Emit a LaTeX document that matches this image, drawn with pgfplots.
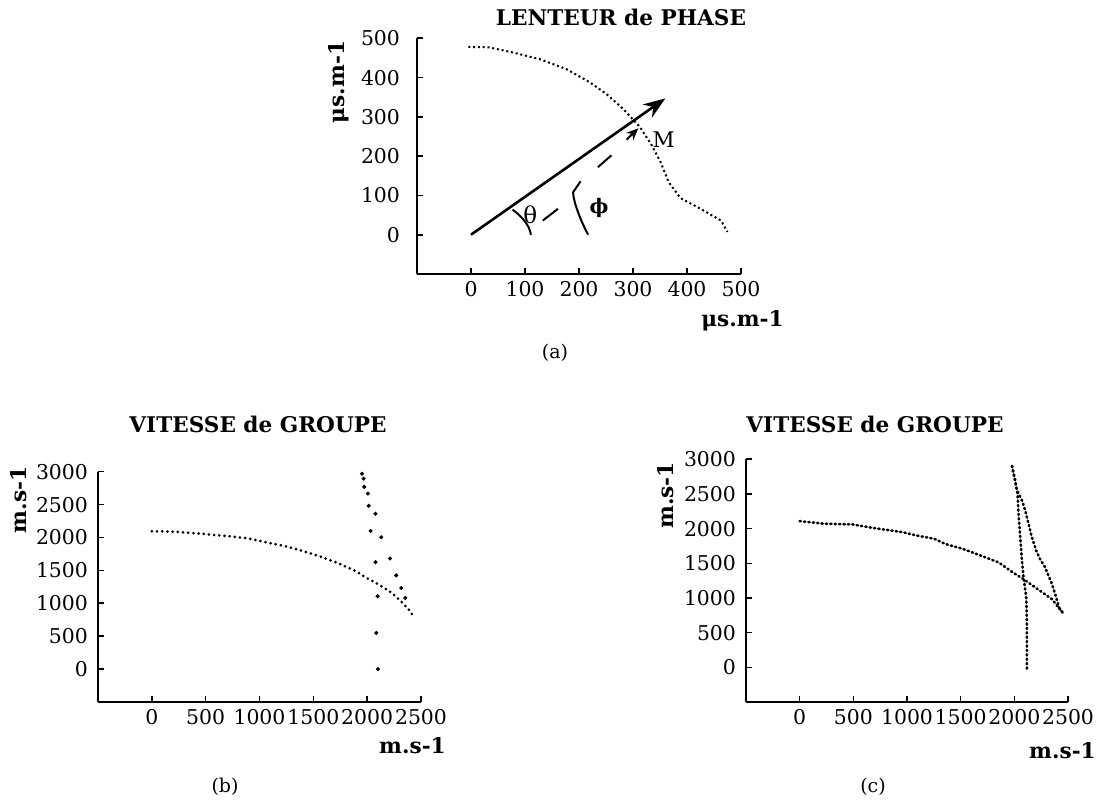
\documentclass[border=0pt]{standalone}
\usepackage{fontspec}
\setmainfont{DejaVu Serif}
\usepackage{pgfplots}
\pgfplotsset{compat=1.18}
\usetikzlibrary{arrows.meta}

\pgfplotsset{
  refaxis/.style={
    scale only axis,
    anchor=south west,
    axis x line=bottom,
    axis y line=left,
    axis line style={-, line width=0.9pt},
    tick align=inside,
    major tick length=3pt,
    tick style={line width=0.8pt, black},
    ticklabel style={font=\fontsize{10.2}{12}\selectfont},
    yticklabel style={xshift=-1.5pt},
    /pgf/number format/assume math mode=true,
    /pgf/number format/1000 sep={},
    clip=false,
  },
  dotcurve/.style={black, line width=1.1pt, line cap=round, dash pattern=on 0.3pt off 2pt},
}

\begin{document}
\begin{tikzpicture}
\useasboundingbox (0,0) rectangle (559.5pt,401pt);

% ---------------- (a) lenteur de phase
\begin{axis}[refaxis,
  at={(208.5pt,264pt)}, width=162pt, height=117.85pt,
  xmin=-100, xmax=500, ymin=-100, ymax=500,
  xtick={0,100,...,500}, ytick={0,100,...,500},
  yticklabel style={xshift=-3.5pt},
]
\addplot[black, line width=1pt, dash pattern=on 1pt off 1.4pt] coordinates {
  (-5,478) (33,477) (77,464) (127,447) (176,422) (220,388) (251,358)
  (282,320) (313,274) (335,227) (351,185) (366,134) (388,93) (425,66)
  (463,36) (475,7)
};
\draw[line width=1.3pt, -{Stealth[length=11pt,width=8pt]}] (axis cs:0,0) -- (axis cs:360,347);
\draw[line width=1pt] (axis cs:133,36) -- (axis cs:161,66);
\draw[line width=1pt] (axis cs:235,172) -- (axis cs:260,202);
\draw[line width=1pt, -{Stealth[length=6pt,width=5pt]}] (axis cs:288,242) -- (axis cs:310,271);
\draw[line width=1pt] (axis cs:77,64) .. controls (axis cs:95,45) and (axis cs:108,25) .. (axis cs:111,0);
\draw[line width=1pt] (axis cs:203,136) -- (axis cs:189,108) .. controls (axis cs:190,80) and (axis cs:205,30) .. (axis cs:217,0);
\node[font=\fontsize{11.5}{13}\selectfont] at (axis cs:110,50) {θ};
\node[font=\fontsize{10}{12}\selectfont\bfseries] at (axis cs:237,67) {ϕ};
\node[font=\fontsize{10.8}{12}\selectfont] at (axis cs:357,243) {M};
\end{axis}

% ---------------- (b) vitesse de groupe
\begin{axis}[refaxis,
  at={(49pt,50pt)}, width=161.5pt, height=115.15pt,
  xmin=-500, xmax=2500, ymin=-500, ymax=3000,
  xtick={0,500,...,2500}, ytick={0,500,...,3000},
]
\addplot[dotcurve, dash pattern=on 0pt off 2.6pt, line width=1.5pt] coordinates {
  (0,2096) (239,2085) (437,2060) (702,2021) (900,1985) (1067,1925)
  (1232,1871) (1398,1796) (1563,1711) (1730,1611) (1895,1487) (1994,1386)
  (2094,1297) (2227,1162) (2326,1012) (2409,862) (2426,788)
};
\addplot[only marks, mark=*, mark size=0.8pt, black] coordinates {
  (1952,2970) (1967,2894) (1973,2769) (2007,2668) (2014,2482) (2032,2100)
  (2078,1625) (2097,1107) (2085,550) (2100,0)
};
\addplot[only marks, mark=*, mark size=0.8pt, black] coordinates {
  (2078,2361) (2131,2003) (2212,1681) (2270,1424) (2317,1233) (2354,1082)
};
\end{axis}

% ---------------- (c) vitesse de groupe
\begin{axis}[refaxis,
  at={(373pt,50pt)}, width=161pt, height=121.35pt,
  xmin=-500, xmax=2500, ymin=-500, ymax=3000,
  xtick={0,500,...,2500}, ytick={0,500,...,3000},
]
\addplot[dotcurve, dash pattern=on 0.6pt off 1.6pt, line width=1.3pt] coordinates {
  (0,2109) (226,2071) (491,2061) (691,2008) (956,1950) (1089,1901)
  (1255,1853) (1355,1780) (1521,1708) (1687,1611) (1853,1514) (1985,1369)
  (2085,1272) (2218,1127) (2351,982) (2450,789)
};
\addplot[dotcurve, dash pattern=on 0.6pt off 1.6pt, line width=1.3pt] coordinates {
  (1978,2903) (2008,2700) (2030,2506) (2039,2216) (2055,1877) (2071,1538)
  (2086,1296) (2111,1006) (2117,620) (2117,239) (2117,-58)
};
\addplot[dotcurve, dash pattern=on 0.6pt off 1.6pt, line width=1.3pt] coordinates {
  (1978,2903) (2024,2554) (2071,2409) (2101,2264) (2132,2071) (2163,1877)
  (2204,1684) (2240,1560) (2284,1450) (2351,1200) (2390,1006) (2417,861)
  (2450,789)
};
\end{axis}

% ---------------- titles, axis labels, captions
\node[font=\fontsize{10.8}{13}\selectfont\bfseries] at (310.5pt,392.25pt) {LENTEUR de PHASE};
\node[font=\fontsize{10.8}{13}\selectfont\bfseries] at (129pt,189pt) {VITESSE de GROUPE};
\node[font=\fontsize{10.8}{13}\selectfont\bfseries] at (437.5pt,189pt) {VITESSE de GROUPE};

\node[font=\fontsize{10.8}{13}\selectfont\bfseries, rotate=90] at (169.5pt,360pt) {μs.m-1};
\node[font=\fontsize{10.8}{13}\selectfont\bfseries] at (371.25pt,240.5pt) {μs.m-1};
\node[font=\fontsize{10.8}{13}\selectfont\bfseries, rotate=90] at (9.25pt,151pt) {m.s-1};
\node[font=\fontsize{10.8}{13}\selectfont\bfseries] at (206.25pt,28pt) {m.s-1};
\node[font=\fontsize{10.8}{13}\selectfont\bfseries, rotate=90] at (332.75pt,153.25pt) {m.s-1};
\node[font=\fontsize{10.8}{13}\selectfont\bfseries] at (531.25pt,25.5pt) {m.s-1};

\node[font=\fontsize{9.5}{11}\selectfont] at (277.5pt,224.5pt) {(a)};
\node[font=\fontsize{9.5}{11}\selectfont] at (112.5pt,7.5pt) {(b)};
\node[font=\fontsize{9.5}{11}\selectfont] at (436.5pt,7.5pt) {(c)};
\end{tikzpicture}
\end{document}
